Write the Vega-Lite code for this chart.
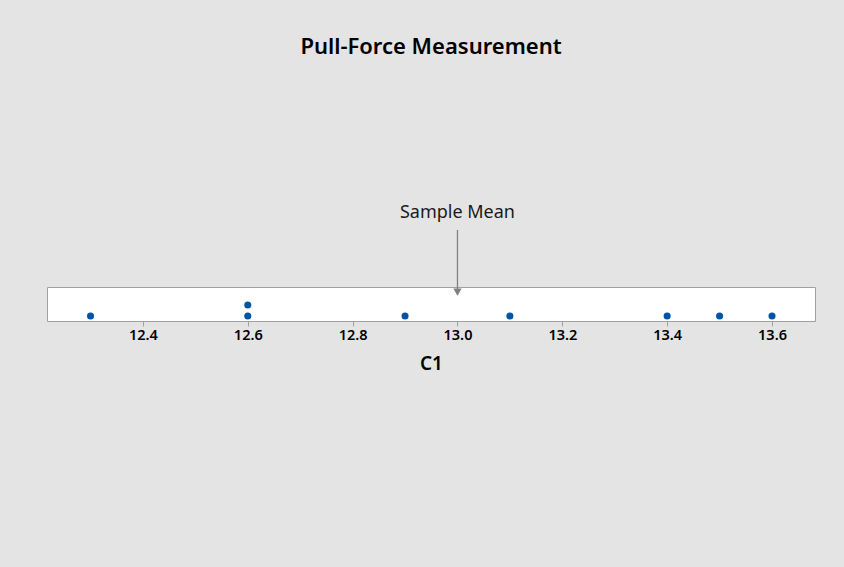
{
  "$schema": "https://vega.github.io/schema/vega-lite/v6.json",
  "autosize": "none",
  "width": 768,
  "height": 34,
  "padding": {"left": 47, "top": 287, "right": 29, "bottom": 246},
  "background": "#e4e4e4",
  "config": {
    "font": "Noto Sans",
    "view": {"fill": "white", "stroke": "#a0a0a0", "strokeWidth": 1}
  },
  "title": {
    "text": "Pull-Force Measurement",
    "fontSize": 22,
    "fontWeight": 600,
    "color": "#000000",
    "anchor": "middle",
    "offset": 145
  },
  "datasets": {
    "points": [
      {"C1": 12.3, "stack": 1},
      {"C1": 12.6, "stack": 1},
      {"C1": 12.6, "stack": 2},
      {"C1": 12.9, "stack": 1},
      {"C1": 13.1, "stack": 1},
      {"C1": 13.4, "stack": 1},
      {"C1": 13.5, "stack": 1},
      {"C1": 13.6, "stack": 1}
    ],
    "mean": [
      {"mean": 13.0, "top": 8.82, "bottom": 3.3, "head": 3.18, "labelY": 10.4, "label": "Sample Mean"}
    ]
  },
  "layer": [
    {
      "data": {"name": "points"},
      "mark": {"type": "circle", "size": 50, "color": "#0054a6", "opacity": 1},
      "encoding": {
        "x": {
          "field": "C1",
          "type": "quantitative",
          "scale": {"domain": [12.217, 13.682], "nice": false, "zero": false},
          "axis": {
            "values": [12.4, 12.6, 12.8, 13.0, 13.2, 13.4, 13.6],
            "format": ".1f",
            "grid": false,
            "domain": false,
            "tickColor": "#a0a0a0",
            "tickSize": 5,
            "labelFontSize": 14.5,
            "labelFontWeight": 600,
            "labelColor": "#000000",
            "labelPadding": 2,
            "title": "C1",
            "titleFontSize": 19,
            "titleFontWeight": 600,
            "titleColor": "#000000",
            "titlePadding": 13
          }
        },
        "y": {
          "field": "stack",
          "type": "quantitative",
          "scale": {"domain": [0.545, 3.636], "nice": false, "zero": false},
          "axis": null
        }
      }
    },
    {
      "data": {"name": "mean"},
      "mark": {"type": "rule", "color": "#808080", "strokeWidth": 1.3, "clip": false},
      "encoding": {
        "x": {"field": "mean", "type": "quantitative"},
        "y": {"field": "top", "type": "quantitative"},
        "y2": {"field": "bottom"}
      }
    },
    {
      "data": {"name": "mean"},
      "mark": {"type": "point", "shape": "triangle-down", "filled": true, "color": "#808080", "size": 70, "opacity": 1, "clip": false},
      "encoding": {
        "x": {"field": "mean", "type": "quantitative"},
        "y": {"field": "head", "type": "quantitative"}
      }
    },
    {
      "data": {"name": "mean"},
      "mark": {"type": "text", "fontSize": 18, "color": "#1a1a1a", "baseline": "middle", "align": "center", "clip": false},
      "encoding": {
        "x": {"field": "mean", "type": "quantitative"},
        "y": {"field": "labelY", "type": "quantitative"},
        "text": {"field": "label"}
      }
    }
  ]
}
